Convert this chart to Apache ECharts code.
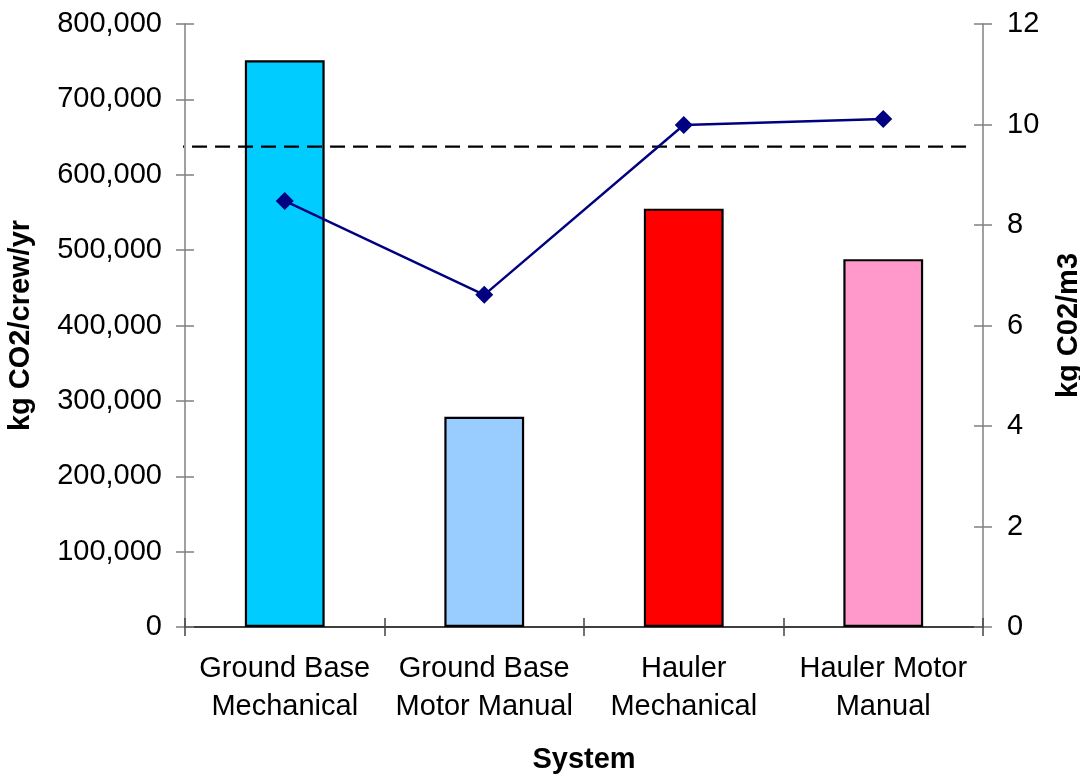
<!DOCTYPE html>
<html>
<head>
<meta charset="utf-8">
<script src="https://cdn.jsdelivr.net/npm/echarts@6/dist/echarts.min.js"></script>
<style>
  html, body { margin: 0; padding: 0; background: #fff; }
  #chart { width: 1080px; height: 775px; }
</style>
</head>
<body>
<div id="chart"></div>
<script>
// Systems compared
const categories = ['Ground Base\nMechanical', 'Ground Base\nMotor Manual', 'Hauler\nMechanical', 'Hauler Motor\nManual'];
// Annual emissions per crew (kg CO2/crew/yr), left axis
const crewEmissions = [752000, 279000, 555000, 488000];
const barColors = ['#00CCFF', '#99CCFF', '#FF0000', '#FF99CC'];
// Emissions per cubic metre (kg CO2/m3), right axis
const perCubicMetre = [8.48, 6.61, 9.99, 10.11];
// Reference level on the right axis and the span it is drawn across (category units)
const referenceLevel = 9.56;
const referenceSpan = [-0.58, 3.445];

const FONT = '"Liberation Sans", Arial, Helvetica, sans-serif';
const FS = 29;
const chart = echarts.init(document.getElementById('chart'));

const fmtThousands = v => String(v).replace(/\B(?=(\d{3})+(?!\d))/g, ',');

chart.setOption({
  animation: false,
  backgroundColor: '#ffffff',
  textStyle: { fontFamily: FONT },
  grid: { left: 185, right: 97, top: 24, bottom: 148, containLabel: false, outerBoundsMode: 'none' },
  xAxis: [
    {
      type: 'category',
      data: categories,
      name: 'System',
      nameLocation: 'middle',
      nameGap: 118,
      nameTextStyle: { fontFamily: FONT, fontSize: FS, fontWeight: 'bold', color: '#000' },
      axisLine: { onZero: false, lineStyle: { color: '#000', width: 1.5 } },
      axisTick: { show: true, length: 9, lineStyle: { color: '#444', width: 1.5 } },
      axisLabel: { fontFamily: FONT, fontSize: FS, color: '#000', lineHeight: 38, margin: 23, interval: 0 },
      splitLine: { show: false }
    },
    {
      // inner half of the crossing ticks
      type: 'category',
      data: categories,
      position: 'bottom',
      axisLine: { show: false, onZero: false },
      axisTick: { show: true, inside: true, length: 9, lineStyle: { color: '#444', width: 1.5 } },
      axisLabel: { show: false },
      splitLine: { show: false }
    },
    {
      // continuous scale over the categories, used for the reference line
      type: 'value',
      min: -0.5,
      max: 3.5,
      show: false
    }
  ],
  yAxis: [
    {
      type: 'value',
      min: 0, max: 800000, interval: 100000,
      name: 'kg CO2/crew/yr',
      nameLocation: 'middle',
      nameGap: 150,
      nameTextStyle: { fontFamily: FONT, fontSize: FS, fontWeight: 'bold', color: '#000' },
      axisLine: { show: true, onZero: false, lineStyle: { color: '#808080', width: 1.5 } },
      axisTick: { show: true, length: 9, lineStyle: { color: '#808080', width: 1.5 } },
      axisLabel: { fontFamily: FONT, fontSize: FS, color: '#000', margin: 23, formatter: fmtThousands },
      splitLine: { show: false }
    },
    {
      type: 'value',
      position: 'right',
      min: 0, max: 12, interval: 2,
      name: 'kg C02/m3',
      nameLocation: 'middle',
      nameGap: 71,
      nameRotate: 90,
      nameTextStyle: { fontFamily: FONT, fontSize: FS, fontWeight: 'bold', color: '#000' },
      axisLine: { show: true, onZero: false, lineStyle: { color: '#808080', width: 1.5 } },
      axisTick: { show: true, length: 9, lineStyle: { color: '#808080', width: 1.5 } },
      axisLabel: { fontFamily: FONT, fontSize: FS, color: '#000', margin: 24 },
      splitLine: { show: false }
    },
    {
      type: 'value', position: 'left',
      min: 0, max: 800000, interval: 100000,
      axisLine: { show: false, onZero: false },
      axisTick: { show: true, inside: true, length: 9, lineStyle: { color: '#808080', width: 1.5 } },
      axisLabel: { show: false },
      splitLine: { show: false }
    },
    {
      type: 'value', position: 'right',
      min: 0, max: 12, interval: 2,
      axisLine: { show: false, onZero: false },
      axisTick: { show: true, inside: true, length: 9, lineStyle: { color: '#808080', width: 1.5 } },
      axisLabel: { show: false },
      splitLine: { show: false }
    }
  ],
  series: [
    {
      type: 'bar',
      xAxisIndex: 0,
      yAxisIndex: 0,
      barWidth: '40%',
      data: crewEmissions.map((v, i) => ({
        value: v,
        itemStyle: { color: barColors[i], borderColor: '#000', borderWidth: 2.2 }
      })),
      z: 2
    },
    {
      type: 'line',
      xAxisIndex: 2,
      yAxisIndex: 1,
      data: referenceSpan.map(x => [x, referenceLevel]),
      symbol: 'none',
      clip: false,
      lineStyle: { color: '#000', width: 2.4, type: [15, 8] },
      z: 3
    },
    {
      type: 'line',
      xAxisIndex: 0,
      yAxisIndex: 1,
      data: perCubicMetre,
      symbol: 'diamond',
      symbolSize: 18,
      itemStyle: { color: '#000080' },
      lineStyle: { color: '#000080', width: 2.4 },
      z: 4
    }
  ]
});
</script>
</body>
</html>
